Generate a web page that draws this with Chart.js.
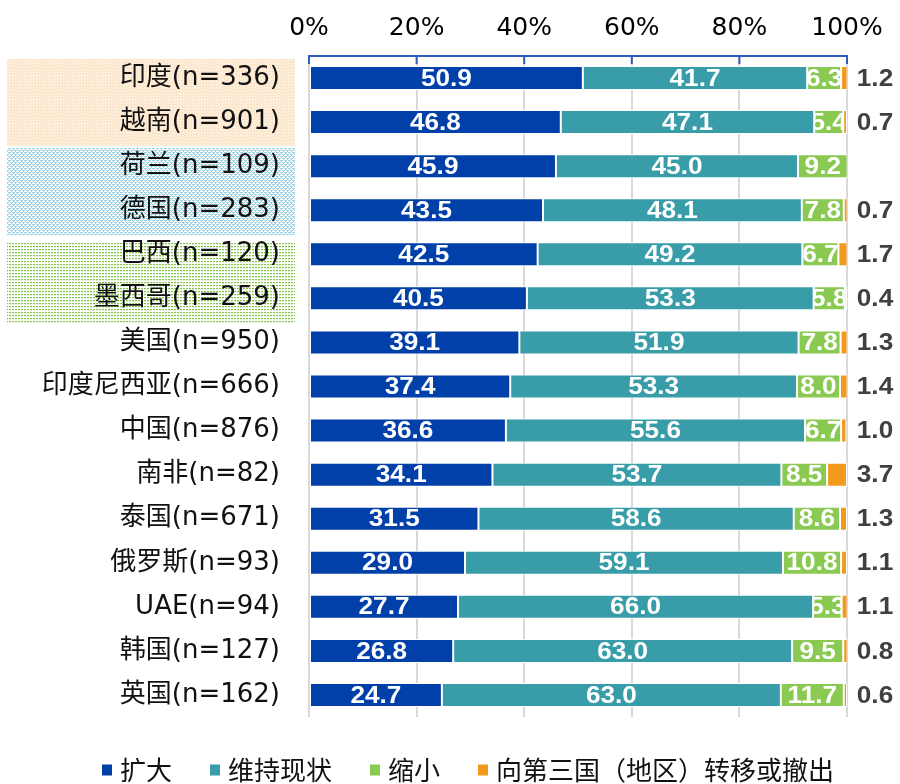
<!DOCTYPE html>
<html><head><meta charset="utf-8">
<script src="https://cdn.jsdelivr.net/npm/chart.js@4/dist/chart.umd.min.js"></script>
<style>html,body{margin:0;padding:0;background:#fff}#wrap{width:900px;height:784px;position:relative}</style>
</head><body><div id="wrap"><canvas id="c"></canvas></div>
<script>
const categories = ['印度(n=336)','越南(n=901)','荷兰(n=109)','德国(n=283)','巴西(n=120)','墨西哥(n=259)','美国(n=950)','印度尼西亚(n=666)','中国(n=876)','南非(n=82)','泰国(n=671)','俄罗斯(n=93)','UAE(n=94)','韩国(n=127)','英国(n=162)'];
const seriesNames = ['扩大','维持现状','缩小','向第三国（地区）转移或撤出'];
const expandVals   = [50.9,46.8,45.9,43.5,42.5,40.5,39.1,37.4,36.6,34.1,31.5,29.0,27.7,26.8,24.7];
const maintainVals = [41.7,47.1,45.0,48.1,49.2,53.3,51.9,53.3,55.6,53.7,58.6,59.1,66.0,63.0,63.0];
const shrinkVals   = [6.3,5.4,9.2,7.8,6.7,5.8,7.8,8.0,6.7,8.5,8.6,10.8,5.3,9.5,11.7];
const withdrawVals = [1.2,0.7,null,0.7,1.7,0.4,1.3,1.4,1.0,3.7,1.3,1.1,1.1,0.8,0.6];
const xTicks = [0,20,40,60,80,100];
const seriesColors = ['#0040A8','#389DA8','#8AC952','#F39A1E'];
const highlightGroups = [[0,1],[2,3],[4,5]];

const LABEL_SX = 1.09; // value labels are horizontally stretched in the reference

function makePattern(ctx, kind){
  const c = document.createElement('canvas');
  const g = c.getContext('2d');
  if (kind === 0) {
    c.width = 3; c.height = 3;
    g.fillStyle = '#FCE6CC'; g.fillRect(0,0,3,3);
    g.fillStyle = '#FFFBF6'; g.fillRect(0,0,1,1);
    g.fillStyle = '#FEF3E6'; g.fillRect(1,1,1,1);
  } else if (kind === 1) {
    c.width = 4; c.height = 4;
    g.fillStyle = '#FFFFFF'; g.fillRect(0,0,4,4);
    g.fillStyle = '#9FD2E2';
    g.fillRect(0,0,2,1); g.fillRect(2,2,2,1); g.fillRect(1,1,1,1); g.fillRect(3,3,1,1);
    g.fillRect(0,2,1,1); g.fillRect(2,0,1,1);
  } else {
    c.width = 3; c.height = 3;
    g.fillStyle = '#FFFFFF'; g.fillRect(0,0,3,3);
    g.fillStyle = '#84C34A'; g.fillRect(0,0,2,1);
    g.fillStyle = '#E2F1D2'; g.fillRect(0,1,2,1);
  }
  return ctx.createPattern(c, 'repeat');
}

const customPlugin = {
  id: 'custom',
  beforeDraw(chart){
    const ctx = chart.ctx;
    const y = chart.scales.y;
    const offs = [[19,24],[18,25],[12,25]];
    highlightGroups.forEach((grp, k) => {
      const top = y.getPixelForValue(grp[0]) - offs[k][0];
      const bot = y.getPixelForValue(grp[1]) + offs[k][1];
      ctx.save();
      ctx.fillStyle = makePattern(ctx, k);
      ctx.fillRect(7, top, 295-7, bot-top);
      ctx.restore();
    });
  },
  afterDatasetsDraw(chart){
    const ctx = chart.ctx;
    const area = chart.chartArea;
    chart.data.datasets.forEach((ds, di) => {
      const meta = chart.getDatasetMeta(di);
      meta.data.forEach((bar, i) => {
        const v = ds.data[i];
        if (v == null) return;
        const p = bar.getProps(['x','y','base','height'], true);
        ctx.save();
        ctx.textBaseline = 'middle';
        ctx.textAlign = 'center';
        ctx.font = 'bold 24px "Liberation Sans", Arial, sans-serif';
        let cx;
        if (di < 3) {
          ctx.beginPath();
          ctx.rect(p.base, p.y - p.height/2, p.x - p.base, p.height);
          ctx.clip();
          ctx.fillStyle = '#FFFFFF';
          cx = (p.base + p.x)/2;
        } else {
          ctx.fillStyle = '#404040';
          cx = area.right + 28;
        }
        ctx.translate(cx, p.y + 1);
        ctx.scale(LABEL_SX, 1);
        ctx.fillText(v.toFixed(1), 0, 0);
        ctx.restore();
      });
    });
    // blue tick marks under the top axis line
    const xs = chart.scales.x;
    ctx.save();
    ctx.strokeStyle = '#2E5BBE';
    ctx.lineWidth = 2;
    xTicks.forEach(t => {
      const px = xs.getPixelForValue(t);
      ctx.beginPath();
      ctx.moveTo(px, area.top);
      ctx.lineTo(px, area.top + 8);
      ctx.stroke();
    });
    ctx.restore();
  },
  afterDraw(chart){
    const ctx = chart.ctx;
    ctx.save();
    ctx.font = '26px "Noto Sans CJK SC", sans-serif';
    ctx.textBaseline = 'middle';
    ctx.textAlign = 'left';
    let x = 102;
    const yc = 770;
    chart.data.datasets.forEach((ds) => {
      ctx.fillStyle = ds.backgroundColor;
      ctx.fillRect(x, yc - 5.5, 10, 11);
      ctx.fillStyle = '#111';
      const tx = x + 18;
      ctx.fillText(ds.label, tx, yc);
      x = tx + ctx.measureText(ds.label).width + 38;
    });
    ctx.restore();
  }
};

const valueLists = [expandVals, maintainVals, shrinkVals, withdrawVals];
new Chart(document.getElementById('c'), {
  type: 'bar',
  data: {
    labels: categories,
    datasets: seriesNames.map((n, i) => ({
      label: n,
      data: valueLists[i],
      backgroundColor: seriesColors[i],
      borderColor: '#FFFFFF',
      borderWidth: 1,
      borderSkipped: false,
      categoryPercentage: 1,
      barPercentage: 0.545
    }))
  },
  options: {
    indexAxis: 'y',
    responsive: true,
    maintainAspectRatio: false,
    animation: false,
    events: [],
    layout: { padding: { left: 0, right: 53, top: 0, bottom: 67 } },
    plugins: { legend: { display: false }, tooltip: { enabled: false } },
    scales: {
      x: {
        position: 'top', stacked: true, min: 0, max: 100,
        afterBuildTicks: s => { s.ticks = xTicks.map(v => ({ value: v })); },
        ticks: { padding: 13, color: '#000', font: { family: '"DejaVu Sans", sans-serif', size: 25 }, callback: v => v + '%' },
        grid: { color: '#D9D9D9', lineWidth: 2, drawTicks: false },
        border: { display: true, color: '#2E5BBE', width: 2 },
        afterFit: s => { s.height = 56; }
      },
      y: {
        stacked: true,
        ticks: { padding: 29, color: '#111', font: { family: '"DejaVu Sans", "Noto Sans CJK SC", sans-serif', size: 26 } },
        grid: { display: false, drawTicks: false },
        border: { display: false },
        afterFit: s => { s.width = 309; }
      }
    }
  },
  plugins: [customPlugin]
});
</script>
</body></html>
